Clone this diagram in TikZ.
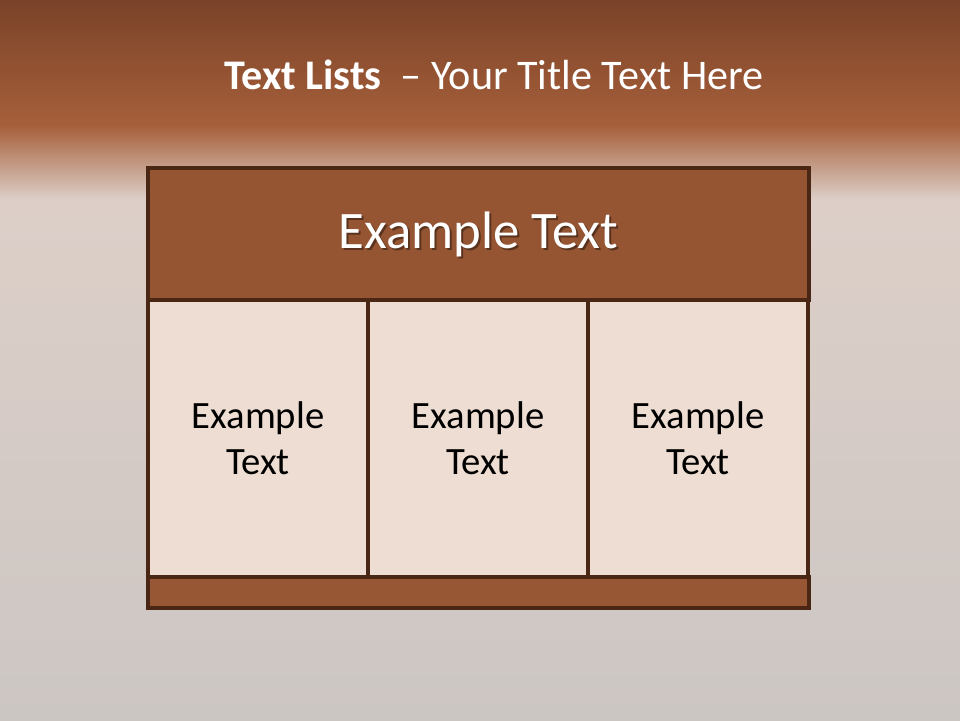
\documentclass[tikz,border=0pt]{standalone}
\usepackage{fontspec}
\setmainfont{Carlito}
\usepackage{tikz}
\usetikzlibrary{positioning}
\definecolor{bgTop}{HTML}{7A4329}
\definecolor{bgBand}{HTML}{A65F3A}
\definecolor{bgFade}{HTML}{DDCFC8}
\definecolor{bgLow}{HTML}{CCC6C3}
\definecolor{tLine}{HTML}{4A2614}
\definecolor{tHead}{HTML}{955533}
\definecolor{tCell}{HTML}{EEDDD2}
\definecolor{tBar}{HTML}{985734}
\tikzset{
  tbox/.style={draw=tLine, line width=2.1pt, inner sep=0pt, outer sep=0pt, anchor=north west},
  headbox/.style={tbox, fill=tHead, minimum width=13.22cm, minimum height=2.64cm},
  cellbox/.style={tbox, fill=tCell, minimum width=4.4cm, minimum height=5.54cm,
    text=black, align=center, font=\fontsize{22}{26}\selectfont},
  barbox/.style={tbox, fill=tBar, minimum width=13.22cm, minimum height=0.62cm},
  headtext/.style={font=\fontsize{30}{34}\selectfont},
  titletext/.style={text=white, font=\fontsize{24}{28}\selectfont},
}

\begin{document}
\begin{tikzpicture}
  % background
  \useasboundingbox (0,0) rectangle (19.2,-14.4);
  \fill[top color=bgTop, bottom color=bgBand] (0,0) rectangle (19.2,-2.5);
  \fill[top color=bgBand, bottom color=bgFade] (0,-2.5) rectangle (19.2,-4.0);
  \fill[top color=bgFade, bottom color=bgLow] (0,-4.0) rectangle (19.2,-14.4);
  \node[titletext] (title) at (9.88,-1.5) {\textbf{Text Lists}\ \ – Your Title Text Here};
  % table
  \node[headbox] (head) at (2.96,-3.36) {};
  \node[cellbox] (c1) at (head.south west) {Example\\Text};
  \node[cellbox] (c2) at (c1.north east) {Example\\Text};
  \node[cellbox] (c3) at (c2.north east) {Example\\Text};
  \node[barbox] (bar) at (c1.south west) {};
  \node[headtext, text=black, opacity=0.4] (headshd) at ([shift={(0.04,-0.04)}]head.center) {Example Text};
  \node[headtext, text=white] (headtxt) at (head.center) {Example Text};
\end{tikzpicture}
\end{document}
